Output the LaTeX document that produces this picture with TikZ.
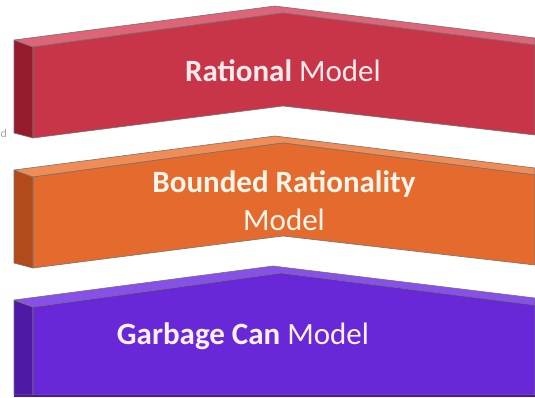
\documentclass[tikz,border=0pt]{standalone}
\usepackage{fontspec}
\setmainfont{Carlito}
\usepackage{xcolor}
\usepackage{tikz}

\definecolor{redfront}{RGB}{200,52,72}
\definecolor{redside}{RGB}{150,28,45}
\definecolor{redtop}{RGB}{222,100,120}
\definecolor{orangefront}{RGB}{228,107,45}
\definecolor{orangeside}{RGB}{178,75,25}
\definecolor{orangetop}{RGB}{240,140,85}
\definecolor{purplefront}{RGB}{104,40,216}
\definecolor{purpleside}{RGB}{78,25,165}
\definecolor{purpletop}{RGB}{135,80,232}

\tikzset{
  face/.style={draw=black!55, line width=0.6pt, line join=round},
  label/.style={font=\fontsize{31}{38}\selectfont, align=center, inner sep=0pt}
}

\begin{document}
\begin{tikzpicture}[x=1pt,y=-1pt]
\useasboundingbox (0,0) rectangle (535,397);
\begin{scope}
\clip (0,0) rectangle (535,397);
\node[text=black!35, font=\fontsize{12}{12}\selectfont, anchor=west, inner sep=0pt] (cut) at (0.5,133) {d};

% red band
\draw[face, fill=redside] (14,40)--(33,47)--(33,138)--(14,133)--cycle;
\draw[face, fill=redtop] (14,40)--(275,6)--(535,38)--(535,45)--(283,13)--(33,47)--cycle;
\draw[face, fill=redfront] (33,47)--(283,13)--(535,45)--(535,135)--(283,106)--(33,138)--cycle;
\node[label, text=red!8] (rational) at (283,71) {\textbf{Rational} Model};

% orange band
\begin{scope}[yshift=-130pt]
\draw[face, fill=orangeside] (14,40)--(33,47)--(33,138)--(14,133)--cycle;
\draw[face, fill=orangetop] (14,40)--(275,6)--(535,38)--(535,45)--(283,13)--(33,47)--cycle;
\draw[face, fill=orangefront] (33,47)--(283,13)--(535,45)--(535,135)--(283,106)--(33,138)--cycle;
\node[label, text=orange!8] (bounded) at (284,71) {\textbf{Bounded Rationality}\\Model};
\end{scope}

% purple band
\draw[face, fill=purpleside] (14,300)--(33,307)--(33,395)--(14,395)--cycle;
\draw[face, fill=purpletop] (14,300)--(273,266)--(535,298)--(535,305)--(281,273)--(33,307)--cycle;
\draw[face, fill=purplefront] (33,307)--(281,273)--(535,305)--(535,395)--(33,395)--cycle;
\fill[purplefront!70!black] (14,395) rectangle (535,397);
\node[label, text=magenta!6] (garbage) at (243,336) {\textbf{Garbage Can} Model};
\end{scope}
\end{tikzpicture}
\end{document}
